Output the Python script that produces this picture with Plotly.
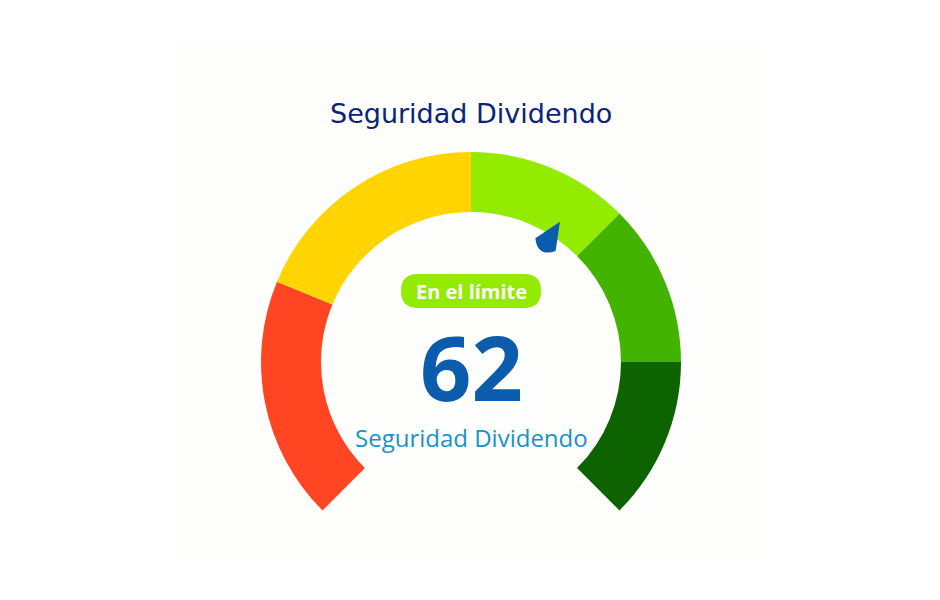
import math
import plotly.graph_objects as go

# ---- data ----
band_labels = ["Peligroso", "Inseguro", "En el límite", "Seguro", "Muy seguro"]
band_limits = [0, 25, 50, 66.67, 83.33, 100]
band_colors = ["#FF4522", "#FFD400", "#93EB00", "#42B300", "#0D6300"]
value = 62
status_label = "En el límite"
title_text = "Seguridad Dividendo"
subtitle_text = "Seguridad Dividendo"

W, H = 940, 600
OFF = 8                    # page body margin offset
CX, CY = 471, 362          # gauge centre, pixels from top-left of the window
R_OUT, R_IN = 210, 150
SWEEP = 270.0

def px(x):
    return (x - OFF) / W

def py(y):
    return 1 - (y - OFF) / H

band_sizes = [band_limits[i + 1] - band_limits[i] for i in range(len(band_labels))]
hidden = 100 * (360 - SWEEP) / SWEEP

fig = go.Figure()
fig.add_trace(go.Pie(
    values=band_sizes + [hidden],
    labels=band_labels + ["_"],
    marker=dict(colors=band_colors + ["rgba(0,0,0,0)"], line=dict(width=0)),
    hole=R_IN / R_OUT,
    sort=False,
    direction="clockwise",
    rotation=225,
    textinfo="none",
    hoverinfo="skip",
    showlegend=False,
    domain=dict(x=[px(CX - R_OUT), px(CX + R_OUT)], y=[py(CY + R_OUT), py(CY - R_OUT)]),
))

shapes = []
# faint panel
shapes.append(dict(type="rect", xref="paper", yref="paper", x0=px(177), x1=px(765), y0=py(560), y1=py(37),
                   fillcolor="#FEFEFC", line=dict(width=0), layer="below"))

# pointer derived from value
ang = math.radians(225 - value / 100 * SWEEP)
ux, uy = math.cos(ang), -math.sin(ang)   # pixel direction (y down)
vx, vy = -uy, ux

def pt(r, s):
    x = CX + r * ux + s * vx
    y = CY + r * uy + s * vy
    return f"{px(x):.5f},{py(y):.5f}"

path = f"M {pt(166, 0)} L {pt(139, 12)} Q {pt(124, 0)} {pt(139, -12)} Z"
shapes.append(dict(type="path", xref="paper", yref="paper", path=path,
                   fillcolor="#0B5CAD", line=dict(width=0)))

# status pill
pw, ph, pr = 140, 34, 17
x0, x1 = CX - pw / 2, CX + pw / 2
y0, y1 = 291 - ph / 2, 291 + ph / 2
pill = (f"M {px(x0 + pr)},{py(y0)} L {px(x1 - pr)},{py(y0)} "
        f"Q {px(x1)},{py(y0)} {px(x1)},{py(y0 + pr)} "
        f"Q {px(x1)},{py(y1)} {px(x1 - pr)},{py(y1)} "
        f"L {px(x0 + pr)},{py(y1)} "
        f"Q {px(x0)},{py(y1)} {px(x0)},{py(y1 - pr)} "
        f"Q {px(x0)},{py(y0)} {px(x0 + pr)},{py(y0)} Z")
status_color = band_colors[[i for i in range(len(band_labels)) if band_limits[i] <= value < band_limits[i + 1]][0]]
shapes.append(dict(type="path", xref="paper", yref="paper", path=pill,
                   fillcolor=status_color, line=dict(width=0)))

annotations = [
    dict(text=title_text, x=px(CX), y=py(113), xref="paper", yref="paper", showarrow=False,
         font=dict(family="DejaVu Sans", size=27, color="#0B2477"), xanchor="center", yanchor="middle"),
    dict(text=f"<b>{status_label}</b>", x=px(CX), y=py(291), xref="paper", yref="paper", showarrow=False,
         font=dict(family="Open Sans", size=20, color="#FFFFFF"), xanchor="center", yanchor="middle"),
    dict(text=f"<b>{value}</b>", x=px(CX), y=py(366), xref="paper", yref="paper", showarrow=False,
         height=88, valign="middle",
         font=dict(family="Open Sans", size=90, color="#0B5CAD"), xanchor="center", yanchor="middle"),
    dict(text=subtitle_text, x=px(CX), y=py(437), xref="paper", yref="paper", showarrow=False,
         font=dict(family="Open Sans", size=24, color="#1A92C6"), xanchor="center", yanchor="middle"),
]

fig.update_layout(
    width=W, height=H,
    margin=dict(l=0, r=0, t=0, b=0),
    paper_bgcolor="#FFFFFF", plot_bgcolor="#FFFFFF",
    shapes=shapes, annotations=annotations,
    showlegend=False,
)
fig.write_html("out.html")
